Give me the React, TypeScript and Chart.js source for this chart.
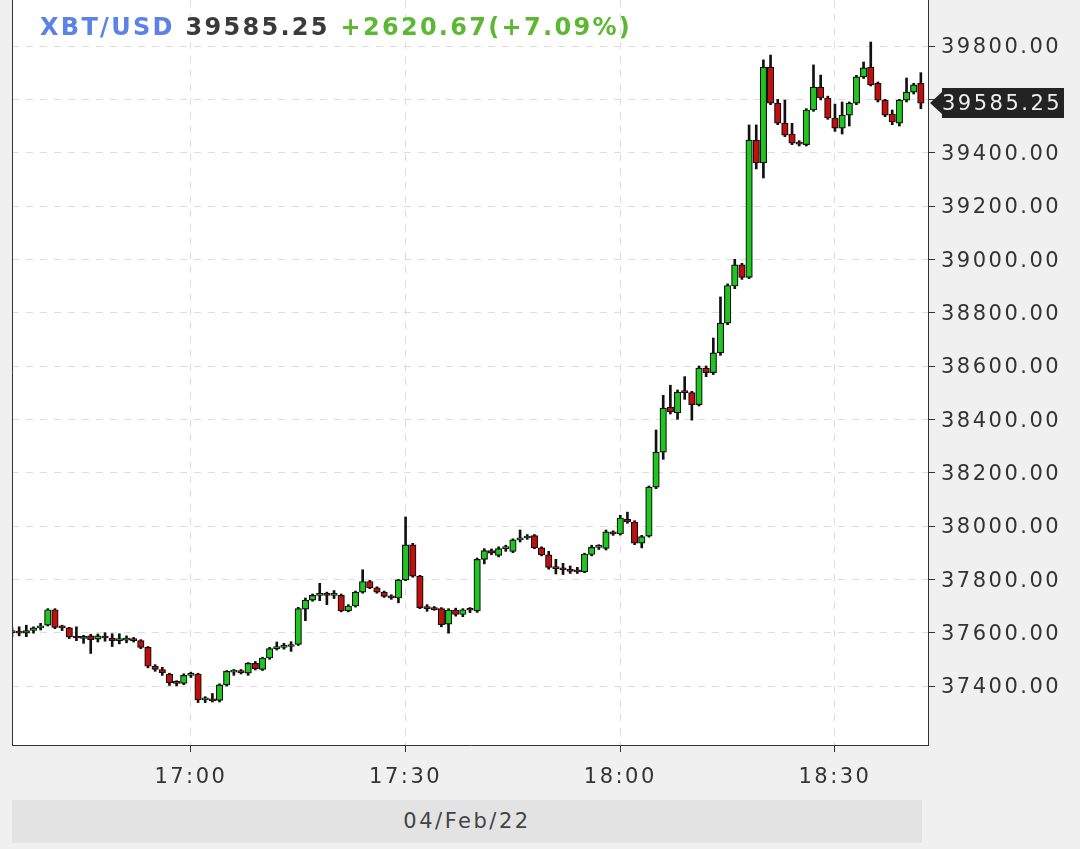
import React, { useEffect, useRef } from "react";
import { Chart, registerables } from "chart.js";

Chart.register(...registerables);

// ---- Data ----
const times = [
  "16:35","16:36","16:37","16:38","16:39","16:40","16:41","16:42","16:43","16:44",
  "16:45","16:46","16:47","16:48","16:49","16:50","16:51","16:52","16:53","16:54",
  "16:55","16:56","16:57","16:58","16:59",
  "17:00","17:01","17:02","17:03","17:04","17:05","17:06","17:07","17:08","17:09",
  "17:10","17:11","17:12","17:13","17:14","17:15","17:16","17:17","17:18","17:19",
  "17:20","17:21","17:22","17:23","17:24","17:25","17:26","17:27","17:28","17:29",
  "17:30","17:31","17:32","17:33","17:34","17:35","17:36","17:37","17:38","17:39",
  "17:40","17:41","17:42","17:43","17:44","17:45","17:46","17:47","17:48","17:49",
  "17:50","17:51","17:52","17:53","17:54","17:55","17:56","17:57","17:58","17:59",
  "18:00","18:01","18:02","18:03","18:04","18:05","18:06","18:07","18:08","18:09",
  "18:10","18:11","18:12","18:13","18:14","18:15","18:16","18:17","18:18","18:19",
  "18:20","18:21","18:22","18:23","18:24","18:25","18:26","18:27","18:28","18:29",
  "18:30","18:31","18:32","18:33","18:34","18:35","18:36","18:37","18:38","18:39",
  "18:40","18:41","18:42","18:43"
];

const opens = [
  37600, 37603, 37598, 37608, 37618, 37628, 37686, 37620, 37618, 37584, 37578, 37588, 37576, 37586,
  37580, 37570, 37572, 37573, 37570, 37545, 37474, 37462, 37445, 37412, 37410, 37440,
  37445, 37348, 37352, 37346, 37404, 37452, 37455, 37448, 37485, 37462, 37505, 37540, 37545, 37548,
  37556, 37688, 37722, 37740, 37742, 37740, 37740, 37682, 37700, 37752, 37792, 37768, 37752, 37738, 37730,
  37798, 37929, 37812, 37694, 37694, 37690, 37632, 37685, 37668, 37686, 37682, 37875, 37908, 37890, 37915,
  37905, 37948, 37955, 37964, 37918, 37892, 37845, 37840, 37836, 37830, 37828, 37893, 37920, 37916, 37978,
  37970, 38025, 38015, 37936, 37962, 38146, 38277, 38446, 38424, 38502, 38500, 38455, 38592, 38575, 38649,
  38761, 38900, 38979, 38932, 39447, 39362, 39721, 39586, 39511, 39470, 39436, 39430, 39560, 39646, 39605,
  39530, 39492, 39541, 39586, 39684, 39721, 39660, 39597, 39545, 39511, 39597, 39627, 39660
];

const highs = [
  37618, 37622, 37628, 37622, 37635, 37690, 37690, 37628, 37620, 37622, 37590, 37594, 37595, 37600,
  37596, 37596, 37588, 37582, 37574, 37548, 37480, 37470, 37448, 37420, 37446, 37452,
  37448, 37360, 37372, 37408, 37458, 37462, 37462, 37488, 37492, 37508, 37545, 37565, 37560, 37566,
  37695, 37730, 37745, 37785, 37752, 37758, 37745, 37705, 37756, 37836, 37796, 37772, 37756, 37742, 37800,
  38034, 37935, 37815, 37705, 37698, 37694, 37690, 37692, 37690, 37694, 37880, 37915, 37914, 37922, 37928,
  37952, 37985, 37968, 37968, 37922, 37905, 37875, 37860, 37850, 37845, 37898, 37928, 37930, 37985, 37982,
  38040, 38052, 38020, 37965, 38150, 38360, 38490, 38528, 38510, 38560, 38505, 38600, 38600, 38705, 38859,
  38908, 39000, 38985, 39504, 39504, 39748, 39766, 39600, 39597, 39510, 39445, 39565, 39729, 39691, 39612,
  39582, 39590, 39590, 39690, 39740, 39815, 39665, 39600, 39560, 39600, 39680, 39660, 39700
];

const lows = [
  37585, 37588, 37585, 37598, 37610, 37625, 37615, 37608, 37578, 37570, 37560, 37522, 37565, 37568,
  37548, 37558, 37562, 37565, 37540, 37468, 37455, 37440, 37402, 37400, 37405, 37432,
  37338, 37338, 37340, 37340, 37400, 37440, 37445, 37440, 37460, 37458, 37500, 37535, 37538, 37530,
  37552, 37645, 37718, 37720, 37705, 37728, 37678, 37678, 37696, 37748, 37765, 37748, 37732, 37725, 37712,
  37795, 37808, 37690, 37680, 37684, 37622, 37598, 37662, 37660, 37675, 37676, 37858, 37892, 37884, 37905,
  37900, 37940, 37950, 37915, 37888, 37838, 37820, 37818, 37822, 37822, 37825, 37888, 37912, 37910, 37965,
  37966, 38010, 37930, 37918, 37958, 38140, 38250, 38420, 38400, 38475, 38397, 38450, 38560, 38568, 38640,
  38755, 38890, 38925, 38928, 39339, 39305, 39580, 39505, 39460, 39430, 39425, 39425, 39555, 39598, 39525,
  39480, 39470, 39500, 39580, 39678, 39650, 39590, 39535, 39505, 39500, 39590, 39620, 39565
];

const closes = [
  37603, 37598, 37608, 37618, 37625, 37686, 37620, 37618, 37584, 37580, 37586, 37574, 37588, 37580,
  37570, 37572, 37573, 37570, 37545, 37474, 37462, 37450, 37412, 37410, 37440, 37442,
  37348, 37350, 37344, 37404, 37455, 37455, 37450, 37485, 37465, 37505, 37540, 37545, 37548, 37555,
  37690, 37722, 37740, 37742, 37740, 37742, 37682, 37700, 37752, 37792, 37768, 37752, 37736, 37730, 37798,
  37929, 37812, 37694, 37690, 37686, 37630, 37685, 37668, 37686, 37684, 37875, 37908, 37898, 37915, 37918,
  37948, 37955, 37962, 37918, 37892, 37845, 37840, 37836, 37830, 37828, 37895, 37920, 37922, 37978, 37970,
  38030, 38015, 37936, 37960, 38146, 38277, 38442, 38428, 38502, 38500, 38455, 38592, 38575, 38649, 38761,
  38902, 38979, 38932, 39447, 39362, 39721, 39586, 39511, 39466, 39436, 39432, 39560, 39646, 39605, 39530,
  39492, 39541, 39586, 39684, 39718, 39654, 39597, 39541, 39515, 39597, 39627, 39654, 39585.25
];

const xTickLabels = ["17:00", "17:30", "18:00", "18:30"];
const yTickValues = [37400, 37600, 37800, 38000, 38200, 38400, 38600, 38800, 39000, 39200, 39400, 39600, 39800];
const yMin = 37178.75;
const yMax = 39972.5;

const symbolText = "XBT/USD";
const lastPriceText = "39585.25";
const changeText = "+2620.67(+7.09%)";
const dateText = "04/Feb/22";

const GREEN = "#1fc61f";
const RED = "#c40e0e";
const OUTLINE = "#111111";
const FONT = "'DejaVu Sans', Verdana, sans-serif";

export default function App() {
  const ref = useRef<HTMLCanvasElement | null>(null);

  useEffect(() => {
    const canvas = ref.current;
    if (!canvas) return;

    const bodies = opens.map((o, i) => [o, closes[i]]);
    const wicks = lows.map((l, i) => [l, highs[i]]);
    const colors = opens.map((o, i) => (closes[i] >= o ? GREEN : RED));

    const spacing = "2.5px";
    const spacingPlugin = {
      id: "spacing",
      beforeUpdate(c: any) { c.ctx.letterSpacing = spacing; },
      beforeDraw(c: any) { c.ctx.letterSpacing = spacing; },
    };
    const bgPlugin = {
      id: "bg",
      beforeDraw(c: any) {
        const { ctx, chartArea: a } = c;
        ctx.save();
        ctx.fillStyle = "#ffffff";
        ctx.fillRect(a.left, a.top, a.right - a.left, a.bottom - a.top);
        ctx.restore();
      },
    };
    const framePlugin = {
      id: "frame",
      afterDatasetsDraw(c: any) {
        const { ctx, chartArea: a } = c;
        ctx.save();
        ctx.strokeStyle = "#333333";
        ctx.lineWidth = 1;
        ctx.beginPath();
        ctx.moveTo(a.left + 0.5, a.top);
        ctx.lineTo(a.left + 0.5, a.bottom);
        ctx.stroke();
        ctx.restore();
      },
    };
    const tagPlugin = {
      id: "tag",
      afterDraw(c: any) {
        const { ctx, chartArea: a } = c;
        const last = closes[closes.length - 1];
        const y = Math.round(c.scales.y.getPixelForValue(last));
        const x0 = a.right + 2;
        ctx.save();
        ctx.fillStyle = "#232323";
        ctx.beginPath();
        ctx.moveTo(x0, y);
        ctx.lineTo(x0 + 12, y - 11);
        ctx.lineTo(x0 + 12, y - 15);
        ctx.lineTo(1064, y - 15);
        ctx.lineTo(1064, y + 15);
        ctx.lineTo(x0 + 12, y + 15);
        ctx.lineTo(x0 + 12, y + 11);
        ctx.closePath();
        ctx.fill();
        ctx.letterSpacing = spacing;
        ctx.fillStyle = "#eeeeee";
        ctx.font = `21px ${FONT}`;
        ctx.textAlign = "left";
        ctx.textBaseline = "middle";
        ctx.fillText(last.toFixed(2), 942, y + 2);
        ctx.restore();
      },
    };

    const chart = new Chart(canvas, {
      type: "bar",
      data: {
        labels: times,
        datasets: [
          {
            label: "body",
            data: bodies as any,
            backgroundColor: colors,
            borderColor: OUTLINE,
            borderWidth: 1.2,
            borderSkipped: false,
            barThickness: 6.5,
            minBarLength: 2,
            grouped: false,
            order: 0,
          } as any,
          {
            label: "wick",
            data: wicks as any,
            backgroundColor: OUTLINE,
            borderWidth: 0,
            barThickness: 2,
            grouped: false,
            order: 1,
          } as any,
        ],
      },
      options: {
        animation: false,
        responsive: false,
        maintainAspectRatio: false,
        layout: { padding: { left: 12, right: 0, top: 0, bottom: 0 } },
        plugins: { legend: { display: false }, tooltip: { enabled: false } },
        scales: {
          x: {
            offset: false,
            grid: {
              offset: false,
              color: "#dddddd",
              lineWidth: 1,
              drawTicks: true,
              tickLength: 7,
              tickColor: "#333333",
            },
            border: { display: true, color: "#333333", width: 1, dash: [7, 7] },
            ticks: {
              autoSkip: false,
              maxRotation: 0,
              color: "#333333",
              font: { family: FONT, size: 21 },
              padding: 13,
            },
            afterBuildTicks(s: any) {
              s.ticks = s.ticks.filter((t: any) => xTickLabels.includes(times[t.value]));
            },
            afterFit(s: any) {
              s.height = 104;
              s.paddingLeft = 0;
              s.paddingRight = 0;
            },
          } as any,
          y: {
            position: "right",
            min: yMin,
            max: yMax,
            grid: {
              color: "#dddddd",
              lineWidth: 1,
              drawTicks: true,
              tickLength: 7,
              tickColor: "#333333",
            },
            border: { display: true, color: "#333333", width: 1, dash: [7, 7] },
            ticks: {
              color: "#333333",
              font: { family: FONT, size: 21 },
              padding: 6,
              labelOffset: 2,
              callback: (v: any) => Number(v).toFixed(2),
            },
            afterBuildTicks(s: any) {
              s.ticks = yTickValues.map((v) => ({ value: v }));
            },
            afterFit(s: any) {
              s.width = 152;
              s.paddingTop = 0;
              s.paddingBottom = 0;
            },
          } as any,
        },
      },
      plugins: [spacingPlugin, bgPlugin, framePlugin, tagPlugin],
    });

    return () => chart.destroy();
  }, []);

  return (
    <div
      style={{
        position: "absolute",
        left: 0,
        top: 0,
        width: 1080,
        height: 849,
        background: "#f0f0f0",
        overflow: "hidden",
      }}
    >
      <canvas
        ref={ref}
        width={1080}
        height={849}
        style={{ position: "absolute", left: 0, top: 0, width: 1080, height: 849 }}
      />
      <div
        style={{
          position: "absolute",
          left: 40,
          top: 13,
          fontFamily: FONT,
          fontWeight: "bold",
          fontSize: 24,
          letterSpacing: "2.3px",
          lineHeight: "28px",
          whiteSpace: "nowrap",
        }}
      >
        <span style={{ color: "#5b82e6" }}>{symbolText}</span>{" "}
        <span style={{ color: "#3a3a3a" }}>{lastPriceText}</span>{" "}
        <span style={{ color: "#5cb832" }}>{changeText}</span>
      </div>
      <div
        style={{
          position: "absolute",
          left: 12,
          top: 800,
          width: 910,
          height: 43,
          background: "#e3e3e3",
          color: "#444444",
          fontFamily: FONT,
          fontSize: 21,
          letterSpacing: "2.5px",
          lineHeight: "43px",
          textAlign: "center",
        }}
      >
        {dateText}
      </div>
    </div>
  );
}
